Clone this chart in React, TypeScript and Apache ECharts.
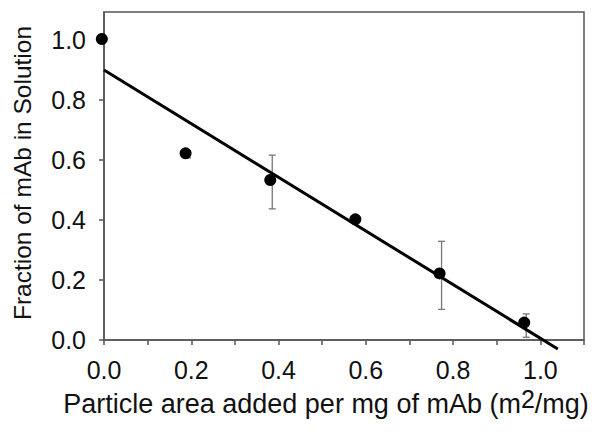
import React, { useEffect, useRef } from "react";
import * as echarts from "echarts";

const xValues = [-0.005, 0.187, 0.381, 0.576, 0.769, 0.963];
const yValues = [1.003, 0.622, 0.533, 0.402, 0.222, 0.058];
const errLow = [1.003, 0.607, 0.437, 0.402, 0.102, 0.009];
const errHigh = [1.003, 0.625, 0.616, 0.402, 0.329, 0.087];
const fitX = [0, 1.04];
const fitY = [0.9, -0.03];
const yTickValues = [0, 0.2, 0.4, 0.6, 0.8, 1.0];

const FONT = "'Liberation Sans', Arial, Helvetica, sans-serif";
const AXIS_COLOR = "#555";

export default function App() {
  const ref = useRef<HTMLDivElement>(null);
  useEffect(() => {
    if (!ref.current) return;
    const chart = echarts.init(ref.current, null, { renderer: "svg" });
    const points = xValues.map((x, i) => [x, yValues[i]]);
    const errs = xValues.map((x, i) => [x, errLow[i], errHigh[i]]);
    const fit = fitX.map((x, i) => [x, fitY[i]]);
    chart.setOption({
      animation: false,
      backgroundColor: "#fff",
      textStyle: { fontFamily: FONT },
      grid: {
        left: 104,
        right: 18,
        top: 12,
        bottom: 101,
        show: true,
        borderColor: AXIS_COLOR,
        borderWidth: 1.5,
        backgroundColor: "transparent",
      },
      xAxis: {
        type: "value",
        min: 0,
        max: 1.1,
        interval: 0.1,
        splitLine: { show: false },
        axisLine: { show: true, lineStyle: { color: AXIS_COLOR, width: 1.5 } },
        axisTick: { show: true, length: 5, lineStyle: { color: AXIS_COLOR, width: 1.5 } },
        axisLabel: {
          margin: 17,
          fontSize: 25,
          color: "#111",
          fontFamily: FONT,
          formatter: (v: number) => (Math.round(v * 10) % 2 === 0 ? v.toFixed(1) : ""),
        },
        name: "Particle area added per mg of mAb (m{sup|2}/mg)",
        nameLocation: "middle",
        nameGap: 43,
        nameTextStyle: {
          fontSize: 27,
          color: "#111",
          fontFamily: FONT,
          padding: [0, 36, 0, 0],
          rich: {
            sup: { fontSize: 25, fontFamily: FONT, color: "#111", padding: [0, 0, 10, 0], verticalAlign: "bottom" },
          },
        },
      },
      yAxis: {
        type: "value",
        min: 0,
        max: 1.093,
        interval: 0.2,
        splitLine: { show: false },
        axisLine: { show: true, lineStyle: { color: AXIS_COLOR, width: 1.5 } },
        axisTick: { show: true, length: 5, customValues: yTickValues, lineStyle: { color: AXIS_COLOR, width: 1.5 } },
        axisLabel: {
          margin: 18,
          fontSize: 25,
          color: "#111",
          fontFamily: FONT,
          customValues: yTickValues,
          formatter: (v: number) => v.toFixed(1),
        },
        name: "Fraction of mAb in Solution",
        nameLocation: "middle",
        nameGap: 69,
        nameTextStyle: { fontSize: 24.5, color: "#111", fontFamily: FONT, padding: [0, 0, 0, 6] },
      },
      series: [
        {
          type: "custom",
          data: errs,
          z: 1,
          clip: false,
          renderItem: (params: any, api: any) => {
            const x = api.value(0);
            const lo = api.coord([x, api.value(1)]);
            const hi = api.coord([x, api.value(2)]);
            const px = lo[0] + 2;
            const cap = 3.5;
            const style = { stroke: "#777", lineWidth: 1.3 };
            return {
              type: "group",
              children: [
                { type: "line", shape: { x1: px, y1: lo[1], x2: px, y2: hi[1] }, style },
                { type: "line", shape: { x1: px - cap, y1: lo[1], x2: px + cap, y2: lo[1] }, style },
                { type: "line", shape: { x1: px - cap, y1: hi[1], x2: px + cap, y2: hi[1] }, style },
              ],
            };
          },
        },
        {
          type: "scatter",
          data: points,
          symbol: "circle",
          symbolSize: 12,
          clip: false,
          itemStyle: { color: "#000", opacity: 1 },
          z: 3,
        },
        {
          type: "line",
          data: fit,
          showSymbol: false,
          symbol: "none",
          clip: false,
          lineStyle: { color: "#000", width: 3 },
          z: 4,
        },
      ],
    });
    return () => chart.dispose();
  }, []);
  return (
    <div
      ref={ref}
      style={{ position: "fixed", left: 0, top: 0, width: 602, height: 441, background: "#fff" }}
    />
  );
}
